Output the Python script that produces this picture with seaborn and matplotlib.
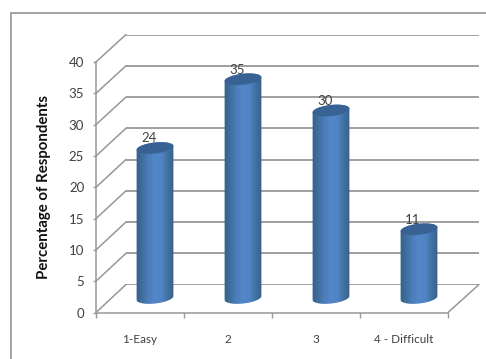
import numpy as np
import pandas as pd
import matplotlib
matplotlib.use("Agg")
import matplotlib.pyplot as plt
from matplotlib.patches import ConnectionPatch, PathPatch, Rectangle
from matplotlib.path import Path
from matplotlib.colors import LinearSegmentedColormap
import seaborn as sns

categories = ["1-Easy", "2", "3", "4 - Difficult"]
percentages = [24, 35, 30, 11]
y_ticks = [0, 5, 10, 15, 20, 25, 30, 35, 40]

W, H = 486, 359
sns.set_theme(style="white")
plt.rcParams["font.family"] = ["Lato", "DejaVu Sans"]

fig = plt.figure(figsize=(W / 100, H / 100), dpi=100, facecolor="white")


def plane(left, top, right, bottom, z):
    """Axes placed by pixel edges, used as one depth plane of the 3-D box."""
    ax = fig.add_axes([left / W, 1 - bottom / H, (right - left) / W, (bottom - top) / H])
    ax.set_xlim(-0.5, 3.5)
    ax.set_ylim(0, 40)
    ax.patch.set_alpha(0)
    ax.set_zorder(z)
    return ax


GRID = "#979797"
TEXT = "#404040"

# Outer chart border, running off the right and bottom edges
fig.add_artist(Rectangle((11 / W, -0.1), 1.2, 1.1 - 13 / H, transform=fig.transFigure,
                         fill=False, ec="#8a8a8a", lw=1.1))

back = plane(126, 34.5, 479, 284.5, 1)
front = plane(96, 62, 448, 312.5, 2)
mid = plane(111, 48, 463, 298, 3)

# Back wall: horizontal gridlines only
back.set_yticks(y_ticks)
back.set_xticks([])
back.tick_params(left=False, labelleft=False)
back.grid(axis="y", color=GRID, lw=1.3)
back.set_axisbelow(True)
for s in back.spines.values():
    s.set_visible(False)

# Front plane: the visible axes, ticks and labels
for s in ("top", "right"):
    front.spines[s].set_visible(False)
for s in ("left", "bottom"):
    front.spines[s].set_color(GRID)
    front.spines[s].set_linewidth(1.1)
front.set_yticks(y_ticks)
front.set_xticks(np.arange(-0.5, 4, 1))
front.set_xticklabels([])
front.set_xticks(range(4), categories, minor=True)
front.tick_params(axis="x", which="major", bottom=True, length=3.5, width=1, color=GRID)
front.tick_params(axis="x", which="minor", bottom=False, length=0, pad=15.5,
                  labelsize=8.5, labelcolor=TEXT)
front.tick_params(axis="y", left=True, length=2.5, width=1, color=GRID, pad=6,
                  labelsize=9.5, labelcolor=TEXT)
front.set_ylabel("Percentage of Respondents", fontsize=10.8, fontweight="bold",
                 color="#111111", labelpad=13)

# Side wall and floor edges joining the front plane to the back wall
for v in y_ticks:
    fig.add_artist(ConnectionPatch((-0.5, v), (-0.5, v), "data", "data",
                                   axesA=front, axesB=back, color=GRID, lw=1.1))
fig.add_artist(ConnectionPatch((3.5, 0), (3.5, 0), "data", "data",
                               axesA=front, axesB=back, color=GRID, lw=1.1))

# Cylinder bodies
df = pd.DataFrame({"category": categories, "percent": percentages})
BAR_W = 37 / 88
sns.barplot(data=df, x="category", y="percent", color="#4a7ab5", width=BAR_W,
            ax=mid, saturation=1)
mid.set_xlim(-0.5, 3.5)
mid.set_ylim(0, 40)
mid.set_axis_off()

PX_X, PX_Y = 88.0, 6.25      # pixels per category and per percentage point
A, B, TILT = 18.5, 5.5, np.deg2rad(6.5)
cyl_map = LinearSegmentedColormap.from_list(
    "cyl", ["#35608f", "#41709f", "#4c7fbd", "#5287c7", "#4f83c2", "#41709f", "#345f90"])


def ellipse(cx, cy, t):
    """Points of a tilted ellipse around (cx, cy) in data units."""
    dx = A * np.cos(t) * np.cos(TILT) - B * np.sin(t) * np.sin(TILT)
    dy = A * np.cos(t) * np.sin(TILT) + B * np.sin(t) * np.cos(TILT)
    return cx + dx / PX_X, cy + dy / PX_Y


bars = list(mid.patches)
for i, (bar, value) in enumerate(zip(bars, percentages)):
    # Outline: far half of the top cap, near half of the bottom cap
    tt = np.linspace(0, 2 * np.pi, 80)
    xt, yt = ellipse(i, value, np.linspace(0, np.pi, 40))
    xb, yb = ellipse(i, 0, np.linspace(np.pi, 2 * np.pi, 40))
    outline = Path(np.r_[np.c_[xt, yt], np.c_[xb, yb], [[xt[0], yt[0]]]], closed=False)
    bar.set_visible(False)

    # Shaded body, free to spill below the zero line onto the floor
    grad = np.linspace(0, 1, 64).reshape(1, -1)
    im = mid.imshow(grad, cmap=cyl_map, aspect="auto", zorder=3,
                    extent=[i - BAR_W / 2 - 0.01, i + BAR_W / 2 + 0.01, -2, value + 2])
    im.set_clip_box(fig.bbox)
    im.set_clip_path(PathPatch(outline, transform=mid.transData))

    xc, yc = ellipse(i, value, tt)
    mid.fill(xc, yc, color="#376293", lw=0, zorder=4)

    mid.annotate(str(value), (i, value), xytext=(-4.5, 7), textcoords="offset points",
                 ha="center", va="center", fontsize=9.5, color=TEXT, zorder=5,
                 annotation_clip=False)

mid.set_xlim(-0.5, 3.5)
mid.set_ylim(0, 40)

fig.savefig("out.png", dpi=100, facecolor="white")
